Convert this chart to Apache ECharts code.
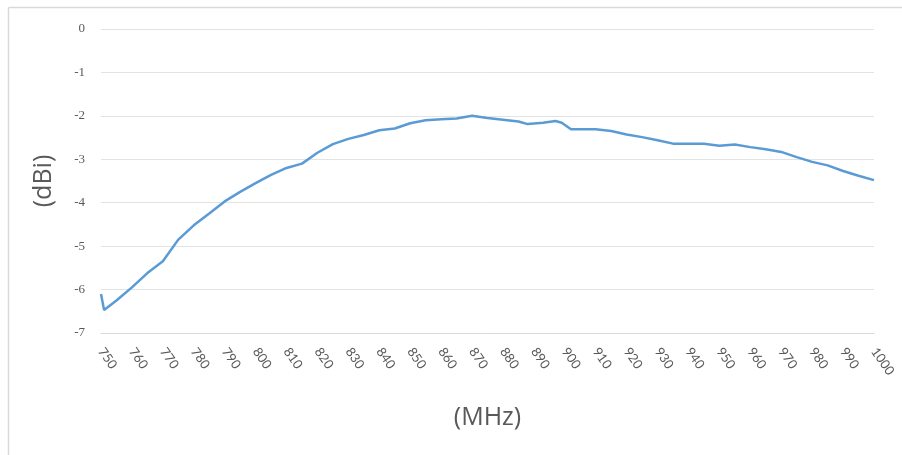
<!DOCTYPE html>
<html>
<head>
<meta charset="utf-8">
<script src="https://cdn.jsdelivr.net/npm/echarts@6/dist/echarts.min.js"></script>
<style>
html,body{margin:0;padding:0;background:#fff;}
#chart{width:902px;height:455px;}
</style>
</head>
<body>
<div id="chart"></div>
<script>
const freqs = [750,751,755,760,765,770,775,780,785,790,795,800,805,810,815,820,825,830,835,840,845,850,855,860,865,870,875,880,885,888,893,897,899,902,905,910,915,920,925,930,935,940,945,950,955,960,965,970,975,980,985,990,995,1000];
const gains = [-6.10,-6.47,-6.25,-5.95,-5.62,-5.35,-4.85,-4.52,-4.25,-3.97,-3.75,-3.55,-3.36,-3.20,-3.10,-2.85,-2.65,-2.53,-2.44,-2.33,-2.29,-2.17,-2.10,-2.08,-2.06,-2.00,-2.05,-2.09,-2.13,-2.19,-2.16,-2.12,-2.16,-2.31,-2.31,-2.31,-2.35,-2.43,-2.49,-2.56,-2.64,-2.64,-2.64,-2.69,-2.66,-2.72,-2.77,-2.83,-2.95,-3.06,-3.14,-3.27,-3.38,-3.48];
const xName = '(MHz)';
const yName = '(dBi)';

const chart = echarts.init(document.getElementById('chart'));
chart.setOption({
  animation: false,
  backgroundColor: '#ffffff',
  graphic: [
    {type:'line', shape:{x1:8.5,y1:7.5,x2:902,y2:7.5}, style:{stroke:'#d9d9d9', lineWidth:1.5}, silent:true},
    {type:'line', shape:{x1:8.5,y1:7.5,x2:8.5,y2:455}, style:{stroke:'#d9d9d9', lineWidth:1.5}, silent:true}
  ],
  grid: {left:101, right:28, top:29, bottom:122},
  xAxis: {
    type:'value', min:750, max:1000, interval:10,
    name: xName, nameLocation:'middle', nameGap:72,
    nameTextStyle:{fontFamily:'Open Sans', fontSize:25, color:'#595959'},
    axisLine:{show:true, onZero:false, lineStyle:{color:'#d9d9d9', width:1}},
    axisTick:{show:false},
    splitLine:{show:false},
    axisLabel:{rotate:-55, margin:16, fontFamily:'Lato', fontSize:13, color:'#595959', formatter:(v)=>String(v)}
  },
  yAxis: {
    type:'value', min:-7, max:0, interval:1,
    name: yName, nameLocation:'middle', nameGap:45,
    nameTextStyle:{fontFamily:'Open Sans', fontSize:25, color:'#595959'},
    axisLine:{show:false}, axisTick:{show:false},
    splitLine:{lineStyle:{color:'#e3e3e3', width:1}},
    axisLabel:{margin:16, fontFamily:'Liberation Serif', fontSize:13, color:'#595959'}
  },
  series: [{
    type:'line',
    data: freqs.map((f,i)=>[f,gains[i]]),
    showSymbol:false,
    lineStyle:{color:'#5b9bd5', width:2.5},
    itemStyle:{color:'#5b9bd5'}
  }]
});
</script>
</body>
</html>
